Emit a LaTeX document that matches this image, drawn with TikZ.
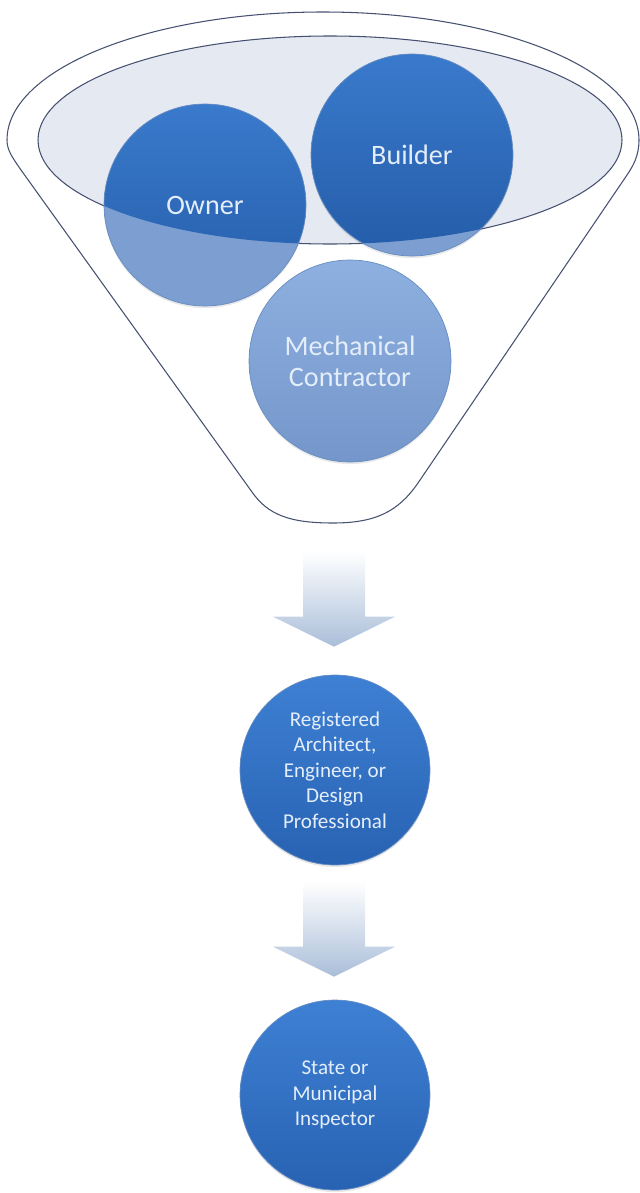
\documentclass[tikz,border=0pt]{standalone}
\usepackage{fontspec}
\setmainfont{Carlito}
\usetikzlibrary{shadows}
\definecolor{funline}{RGB}{70,80,112}
\definecolor{funfill}{RGB}{229,233,241}
\definecolor{balltop}{RGB}{58,122,204}
\definecolor{ballbot}{RGB}{36,92,168}
\definecolor{balllight}{RGB}{124,158,208}
\definecolor{mechtop}{RGB}{142,176,224}
\definecolor{mechbot}{RGB}{116,150,202}
\definecolor{steptop}{RGB}{62,128,212}
\definecolor{stepbot}{RGB}{40,98,178}
\definecolor{arrowblue}{RGB}{170,190,217}
\definecolor{balltext}{RGB}{228,238,250}

\tikzset{
  ball/.style={circle,draw=ballbot!70,line width=0.4pt,text=balltext,align=center,inner sep=0pt,
    drop shadow={opacity=0.18,shadow xshift=0pt,shadow yshift=-1.2pt}},
  topball/.style={ball,minimum size=4.04cm,font=\fontsize{16}{17.5}\selectfont},
  lowball/.style={ball,minimum size=3.8cm,top color=steptop,bottom color=stepbot,
    font=\fontsize{12}{14.5}\selectfont},
  % dark part of a ball where it sits inside the funnel mouth
  inmouth/.style={path picture={
      \begin{scope}
        \clip (funtop) ellipse[x radius=292,y radius=104];
        \shade[top color=balltop,bottom color=ballbot]
          (path picture bounding box.north west) rectangle (path picture bounding box.south east);
      \end{scope}}},
  downarrow/.pic={
    \shade[top color=white,bottom color=arrowblue]
      (-31,0) -- (31,0) -- (31,65) -- (61,65) -- (0,95) -- (-61,65) -- (-31,65) -- cycle;}
}

\begin{document}
\begin{tikzpicture}[x=0.02cm,y=-0.02cm]
  \useasboundingbox (0,0) rectangle (639,1193);

  % funnel body
  \draw[funline,line width=0.6pt] (7,140) arc[start angle=180,end angle=360,x radius=316,y radius=128]
     .. controls (639,156) and (633,166) .. (627,175) -- (418,483)
     .. controls (398,512) and (375,523) .. (333,523)
     .. controls (290,523) and (268,515) .. (252,492) -- (21,170)
     .. controls (12,157) and (7,150) .. cycle;
  \coordinate (funtop) at (330,140);
  \draw[funline,fill=funfill,line width=0.6pt] (funtop) ellipse[x radius=292,y radius=104];

  % what goes into the funnel
  \node[topball,fill=balllight,inmouth] (owner) at (205,205) {Owner};
  \node[topball,fill=balllight,inmouth] (builder) at (412,155) {Builder};
  \node[topball,top color=mechtop,bottom color=mechbot] (mech) at (350,361) {Mechanical\\Contractor};

  % what comes out
  \node[lowball] (design) at (335,770) {Registered\\Architect,\\Engineer, or\\Design\\Professional};
  \node[lowball] (inspector) at (335,1095) {State or\\Municipal\\Inspector};

  \path (design.north) ++(-1,-123) pic {downarrow};
  \path (inspector.north) ++(-1,-118) pic {downarrow};
\end{tikzpicture}
\end{document}
